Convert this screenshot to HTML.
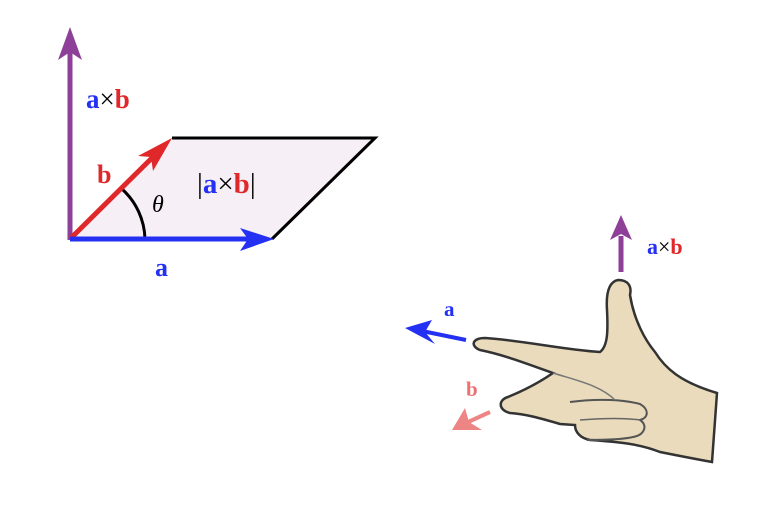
<!DOCTYPE html>
<html><head><style>body{margin:0;background:#fff}svg{display:block}</style></head><body>
<svg width="771" height="525" viewBox="0 0 771 525" xmlns="http://www.w3.org/2000/svg" font-family="Liberation Serif, serif" font-weight="bold">
<polygon points="70,239 172,138 375,138 272,239" fill="#f7eff6"/>
<polyline points="172,138 375,138 272,239" fill="none" stroke="#000" stroke-width="3"/>
<path d="M122,189 A70,70 0 0 1 145,239" fill="none" stroke="#000" stroke-width="3"/>
<line x1="70" y1="240" x2="70" y2="50" stroke="#8e3f98" stroke-width="5"/>
<polygon points="70,27 58,60 70,52 82,60" fill="#8e3f98"/>
<line x1="70" y1="239" x2="160" y2="150" stroke="#e0272a" stroke-width="5"/>
<polygon points="172,138 138,156 151,157 153,171" fill="#e0272a"/>
<line x1="70" y1="239" x2="255" y2="239" stroke="#2430f2" stroke-width="5"/>
<polygon points="274,239 240,228 248,239 240,251" fill="#2430f2"/>
<text x="86" y="108" font-size="27"><tspan fill="#2430f2">a</tspan><tspan fill="#000" font-weight="normal">×</tspan><tspan fill="#e0272a">b</tspan></text>
<text x="97" y="183" font-size="26" fill="#e0272a">b</text>
<text x="155" y="276" font-size="26" fill="#2430f2">a</text>
<text x="152" y="212" font-size="24" font-style="italic" font-weight="normal" fill="#000">θ</text>
<text x="197" y="193" font-size="29"><tspan fill="#000" font-weight="normal">|</tspan><tspan fill="#2430f2">a</tspan><tspan fill="#000" font-weight="normal">×</tspan><tspan fill="#e0272a">b</tspan><tspan fill="#000" font-weight="normal">|</tspan></text>
<!-- hand -->
<path d="M618,280 C628,280 632,286 630,295 C634,320 645,340 655,352 C665,368 680,382 717,393 L712,462 C690,458 675,455 660,452 C640,444 620,442 590,440 C580,438 575,432 575,425 L560,424 C540,418 525,414 510,413 C498,410 498,400 508,397 C525,390 540,382 553,373 C530,365 505,355 480,350 C470,346 472,338 485,338 C520,340 565,350 600,352 C608,346 608,330 607,310 C606,295 608,282 618,280 Z" fill="#e9dbbb" stroke="#333" stroke-width="2.5"/>
<path d="M570,402 C600,398 625,400 640,404 C650,410 648,418 640,420 C648,425 645,435 633,437 C620,440 600,440 587,440" fill="none" stroke="#555" stroke-width="2"/>
<path d="M580,420 C605,418 625,418 640,420" fill="none" stroke="#666" stroke-width="1.5"/>
<path d="M553,373 C575,380 600,385 615,400" fill="none" stroke="#777" stroke-width="1.5"/>
<line x1="621" y1="272" x2="621" y2="236" stroke="#8e3f98" stroke-width="5"/>
<polygon points="621,215 610,240 621,234 632,240" fill="#8e3f98"/>
<text x="647" y="254" font-size="22"><tspan fill="#2430f2">a</tspan><tspan fill="#000" font-weight="normal">×</tspan><tspan fill="#e0272a">b</tspan></text>
<line x1="466" y1="340" x2="422" y2="331" stroke="#2430f2" stroke-width="4"/>
<polygon points="405,328 432,320 425,332 435,344" fill="#2430f2"/>
<text x="444" y="316" font-size="21" fill="#2430f2">a</text>
<line x1="490" y1="412" x2="466" y2="423" stroke="#ee8585" stroke-width="4"/>
<polygon points="452,430 465,408 469,422 482,430" fill="#ee8585"/>
<text x="466" y="396" font-size="21" fill="#ee7070">b</text>
</svg>
</body></html>
